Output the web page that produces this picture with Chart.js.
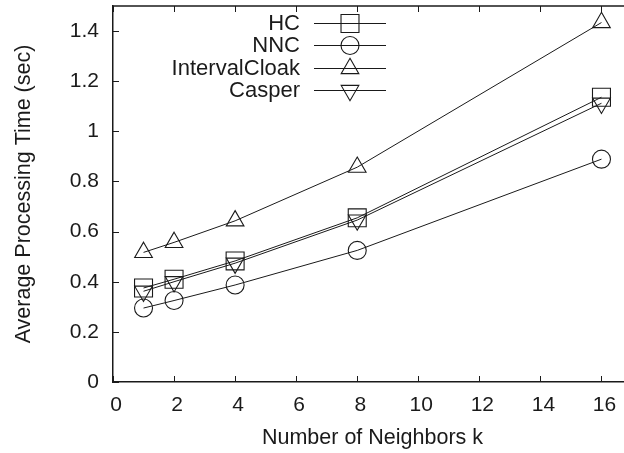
<!DOCTYPE html>
<html>
<head>
<meta charset="utf-8">
<title>Average Processing Time vs k</title>
<script src="https://cdn.jsdelivr.net/npm/chart.js@4/dist/chart.umd.min.js"></script>
<style>
  html, body { margin: 0; padding: 0; background: #ffffff; overflow: hidden; }
  #wrap { width: 632px; height: 453px; }
</style>
</head>
<body>
<div id="wrap"><canvas id="chart" width="632" height="453"></canvas></div>
<script>
// Number of neighbours k on the x axis
const kValues = [1, 2, 4, 8, 16];

// Average processing time (sec) of each cloaking method
const hcTimes            = [0.375, 0.410, 0.483, 0.655, 1.136];
const nncTimes           = [0.295, 0.325, 0.387, 0.525, 0.889];
const intervalCloakTimes = [0.517, 0.557, 0.643, 0.857, 1.434];
const casperTimes        = [0.362, 0.400, 0.474, 0.646, 1.112];

const seriesNames = ['HC', 'NNC', 'IntervalCloak', 'Casper'];

// Axis ticks
const xTickValues = [0, 2, 4, 6, 8, 10, 12, 14, 16];
const yTickValues = [0, 0.2, 0.4, 0.6, 0.8, 1, 1.2, 1.4];

const INK = '#1a1a1a';
const FONT = 'Liberation Sans, Arial, Helvetica, sans-serif';
Chart.defaults.font.family = FONT;
Chart.defaults.font.size = 21;
Chart.defaults.color = INK;

function toPoints(values) {
  return kValues.map((k, i) => ({ x: k, y: values[i] }));
}

function series(label, values, style, radius, rotation) {
  return {
    label: label,
    data: toPoints(values),
    showLine: true,
    borderColor: INK,
    borderWidth: 1,
    backgroundColor: 'rgba(0,0,0,0)',
    pointStyle: style,
    pointRadius: radius,
    pointHoverRadius: radius,
    pointRotation: rotation,
    pointBorderColor: INK,
    pointBorderWidth: 1.1,
    pointBackgroundColor: 'rgba(0,0,0,0)',
    tension: 0
  };
}

// Frame on top plus inward tick marks on the axes
const framePlugin = {
  id: 'frame',
  afterDatasetsDraw(chart) {
    const { ctx, chartArea: a, scales } = chart;
    const len = 6;
    ctx.save();
    ctx.strokeStyle = INK;
    ctx.lineWidth = 1.5;
    ctx.beginPath();
    ctx.moveTo(a.left, a.top);
    ctx.lineTo(a.right, a.top);
    ctx.stroke();
    ctx.lineWidth = 1;
    ctx.beginPath();
    xTickValues.forEach(v => {
      const px = Math.round(scales.x.getPixelForValue(v)) + 0.5;
      ctx.moveTo(px, a.bottom);
      ctx.lineTo(px, a.bottom - len);
      ctx.moveTo(px, a.top);
      ctx.lineTo(px, a.top + len);
    });
    yTickValues.forEach(v => {
      const py = Math.round(scales.y.getPixelForValue(v)) + 0.5;
      ctx.moveTo(a.left, py);
      ctx.lineTo(a.left + len, py);
    });
    ctx.stroke();
    ctx.restore();
  }
};

function drawMarker(ctx, ds, x, y) {
  const opts = {
    pointStyle: ds.pointStyle,
    radius: ds.pointRadius,
    rotation: ds.pointRotation || 0,
    borderWidth: ds.pointBorderWidth
  };
  ctx.strokeStyle = ds.pointBorderColor;
  ctx.fillStyle = ds.pointBackgroundColor;
  ctx.lineWidth = ds.pointBorderWidth;
  if (Chart.helpers && Chart.helpers.drawPoint) {
    Chart.helpers.drawPoint(ctx, opts, x, y);
    return;
  }
  const r = opts.radius;
  ctx.beginPath();
  if (opts.pointStyle === 'circle') {
    ctx.arc(x, y, r, 0, Math.PI * 2);
  } else if (opts.pointStyle === 'rect') {
    const s = r * Math.SQRT1_2;
    ctx.rect(x - s, y - s, 2 * s, 2 * s);
  } else {
    let rad = opts.rotation * Math.PI / 180;
    ctx.moveTo(x + Math.sin(rad) * r, y - Math.cos(rad) * r);
    rad += 2 * Math.PI / 3;
    ctx.lineTo(x + Math.sin(rad) * r, y - Math.cos(rad) * r);
    rad += 2 * Math.PI / 3;
    ctx.lineTo(x + Math.sin(rad) * r, y - Math.cos(rad) * r);
    ctx.closePath();
  }
  ctx.stroke();
}

// Key: label right-aligned, then a short line sample with its marker
const keyPlugin = {
  id: 'key',
  afterDraw(chart) {
    const { ctx, chartArea: a } = chart;
    const textRight = a.left + 187;
    const lineStart = a.left + 201;
    const lineEnd = a.left + 273;
    const markX = a.left + 237;
    const firstRow = a.top + 17;
    const rowGap = 22.4;
    ctx.save();
    ctx.font = '22px ' + FONT;
    ctx.textAlign = 'right';
    ctx.textBaseline = 'middle';
    chart.data.datasets.forEach((ds, i) => {
      const y = firstRow + i * rowGap;
      ctx.fillStyle = INK;
      ctx.fillText(ds.label, textRight, y + 1);
      ctx.strokeStyle = ds.borderColor;
      ctx.lineWidth = 1;
      ctx.beginPath();
      ctx.moveTo(lineStart, Math.round(y) + 0.5);
      ctx.lineTo(lineEnd, Math.round(y) + 0.5);
      ctx.stroke();
      drawMarker(ctx, ds, markX, Math.round(y) + 0.5);
    });
    ctx.restore();
  }
};

new Chart(document.getElementById('chart'), {
  type: 'scatter',
  data: {
    datasets: [
      series(seriesNames[0], hcTimes, 'rect', 12.7, 0),
      series(seriesNames[1], nncTimes, 'circle', 9, 0),
      series(seriesNames[2], intervalCloakTimes, 'triangle', 10.2, 0),
      series(seriesNames[3], casperTimes, 'triangle', 10.2, 180)
    ]
  },
  options: {
    responsive: false,
    animation: false,
    events: [],
    layout: { autoPadding: false, padding: { top: 6, left: 0, right: 0, bottom: 0 } },
    plugins: {
      legend: { display: false },
      tooltip: { enabled: false }
    },
    scales: {
      x: {
        type: 'linear',
        position: 'bottom',
        min: 0,
        max: 17,
        afterBuildTicks(scale) {
          scale.ticks = xTickValues.map(v => ({ value: v }));
        },
        afterFit(scale) {
          scale.height = 71;
          scale.paddingLeft = 0;
          scale.paddingRight = 0;
        },
        ticks: {
          padding: 11,
          labelOffset: 3,
          color: INK,
          font: { size: 21 },
          callback: v => String(v)
        },
        grid: { display: true, drawOnChartArea: false, drawTicks: false },
        border: { display: true, color: INK, width: 1.5 },
        title: {
          display: true,
          text: 'Number of Neighbors k',
          color: INK,
          font: { size: 21.5 },
          padding: { top: 0, bottom: 2 }
        }
      },
      y: {
        type: 'linear',
        position: 'left',
        min: 0,
        max: 1.5,
        afterBuildTicks(scale) {
          scale.ticks = yTickValues.map(v => ({ value: v }));
        },
        afterFit(scale) {
          scale.width = 113;
          scale.paddingTop = 0;
          scale.paddingBottom = 0;
        },
        ticks: {
          padding: 14,
          color: INK,
          font: { size: 21 },
          callback: v => String(Math.round(v * 10) / 10)
        },
        grid: { display: true, drawOnChartArea: false, drawTicks: false },
        border: { display: true, color: INK, width: 1.5 },
        title: {
          display: true,
          text: 'Average Processing Time (sec)',
          color: INK,
          font: { size: 21.5 },
          padding: { top: 11, bottom: 0 }
        }
      }
    }
  },
  plugins: [framePlugin, keyPlugin]
});
</script>
</body>
</html>
